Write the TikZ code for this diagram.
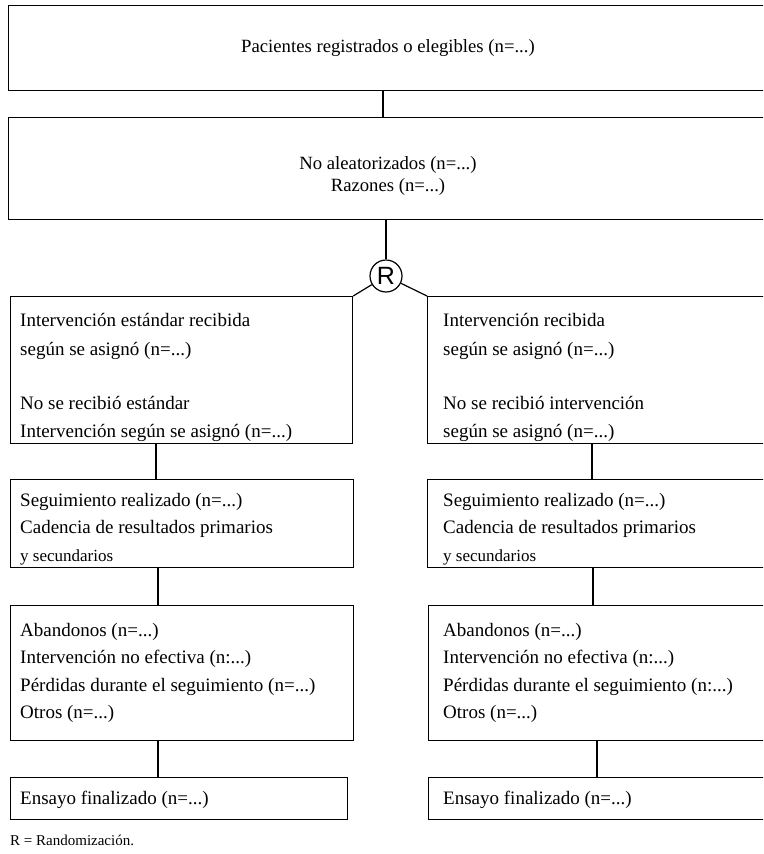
\documentclass[tikz,border=0pt]{standalone}
\usepackage{fontspec}
\setmainfont{Liberation Serif}
\newfontfamily\rsans{Liberation Sans}
\begin{document}
\begin{tikzpicture}[x=1pt,y=-1pt,
  box/.style={draw, line width=1.2pt, inner sep=0pt, anchor=north west},
  txt/.style={anchor=base west, inner sep=0pt, font=\fontsize{19}{22}\selectfont},
  ctxt/.style={anchor=base, inner sep=0pt, font=\fontsize{18.7}{22}\selectfont},
  link/.style={draw, line width=1.2pt}]
\useasboundingbox (0,0) rectangle (763,854);
\clip (-1,-1) rectangle (763,854);
% boxes
\node[box, minimum width=770pt, minimum height=85pt] (top) at (8,5) {};
\node[box, minimum width=770pt, minimum height=102pt] (mid) at (8,117) {};
\node[draw, circle, line width=1.2pt, minimum size=32pt, inner sep=0pt,
      font=\rsans\fontsize{25}{25}\selectfont] (R) at (386,276) {R};
\node[box, minimum width=342pt, minimum height=147pt] (L1) at (10,296) {};
\node[box, minimum width=350pt, minimum height=147pt] (R1) at (427,296) {};
\node[box, minimum width=343pt, minimum height=88pt] (L2) at (10,479) {};
\node[box, minimum width=350pt, minimum height=88pt] (R2) at (427,479) {};
\node[box, minimum width=343pt, minimum height=135pt] (L3) at (10,605) {};
\node[box, minimum width=350pt, minimum height=135pt] (R3) at (428,605) {};
\node[box, minimum width=337pt, minimum height=42pt] (L4) at (10,777) {};
\node[box, minimum width=350pt, minimum height=42pt] (R4) at (428,777) {};
% texts
\node[ctxt] (t0) at (388,52) {Pacientes registrados o elegibles (n=...)};
\node[ctxt] (t1) at (388,169) {No aleatorizados (n=...)};
\node[ctxt] (t2) at (388,191) {Razones (n=...)};
\node[txt] (l1a) at (20,326) {Intervención estándar recibida};
\node[txt] (l1b) at (20,355) {según se asignó (n=...)};
\node[txt] (l1c) at (20,409) {No se recibió estándar};
\node[txt] (l1d) at (20,437) {Intervención según se asignó (n=...)};
\node[txt] (r1a) at (443,326) {Intervención recibida};
\node[txt] (r1b) at (443,355) {según se asignó (n=...)};
\node[txt] (r1c) at (443,409) {No se recibió intervención};
\node[txt] (r1d) at (443,437) {según se asignó (n=...)};
\node[txt] (l2a) at (20,506) {Seguimiento realizado (n=...)};
\node[txt] (l2b) at (20,533) {Cadencia de resultados primarios};
\node[txt, font=\fontsize{17}{20}\selectfont] (l2c) at (20,561) {y secundarios};
\node[txt] (r2a) at (443,506) {Seguimiento realizado (n=...)};
\node[txt] (r2b) at (443,533) {Cadencia de resultados primarios};
\node[txt, font=\fontsize{17}{20}\selectfont] (r2c) at (443,561) {y secundarios};
\node[txt] (l3a) at (20,636) {Abandonos (n=...)};
\node[txt] (l3b) at (20,663) {Intervención no efectiva (n:...)};
\node[txt] (l3c) at (20,691) {Pérdidas durante el seguimiento (n=...)};
\node[txt] (l3d) at (20,718) {Otros (n=...)};
\node[txt] (r3a) at (443,636) {Abandonos (n=...)};
\node[txt] (r3b) at (443,663) {Intervención no efectiva (n:...)};
\node[txt] (r3c) at (443,691) {Pérdidas durante el seguimiento (n:...)};
\node[txt] (r3d) at (443,718) {Otros (n=...)};
\node[txt] (l4a) at (20,804) {Ensayo finalizado (n=...)};
\node[txt] (r4a) at (443,804) {Ensayo finalizado (n=...)};
\node[txt, font=\fontsize{15}{17}\selectfont] (note) at (10,845) {R = Randomización.};
% connector x positions
\coordinate (c0) at (383,0);
\coordinate (cl1) at (156,0);
\coordinate (cl2) at (158,0);
\coordinate (cl3) at (158,0);
\coordinate (cr1) at (592,0);
\coordinate (cr2) at (593,0);
\coordinate (cr3) at (597,0);
% connectors
\draw[link] (top.south -| c0) -- (mid.north -| c0);
\draw[link] (mid.south -| R) -- (R);
\draw[link] (R) -- (L1.north east);
\draw[link] (R) -- (R1.north west);
\draw[link] (L1.south -| cl1) -- (L2.north -| cl1);
\draw[link] (L2.south -| cl2) -- (L3.north -| cl2);
\draw[link] (L3.south -| cl3) -- (L4.north -| cl3);
\draw[link] (R1.south -| cr1) -- (R2.north -| cr1);
\draw[link] (R2.south -| cr2) -- (R3.north -| cr2);
\draw[link] (R3.south -| cr3) -- (R4.north -| cr3);
\end{tikzpicture}
\end{document}
